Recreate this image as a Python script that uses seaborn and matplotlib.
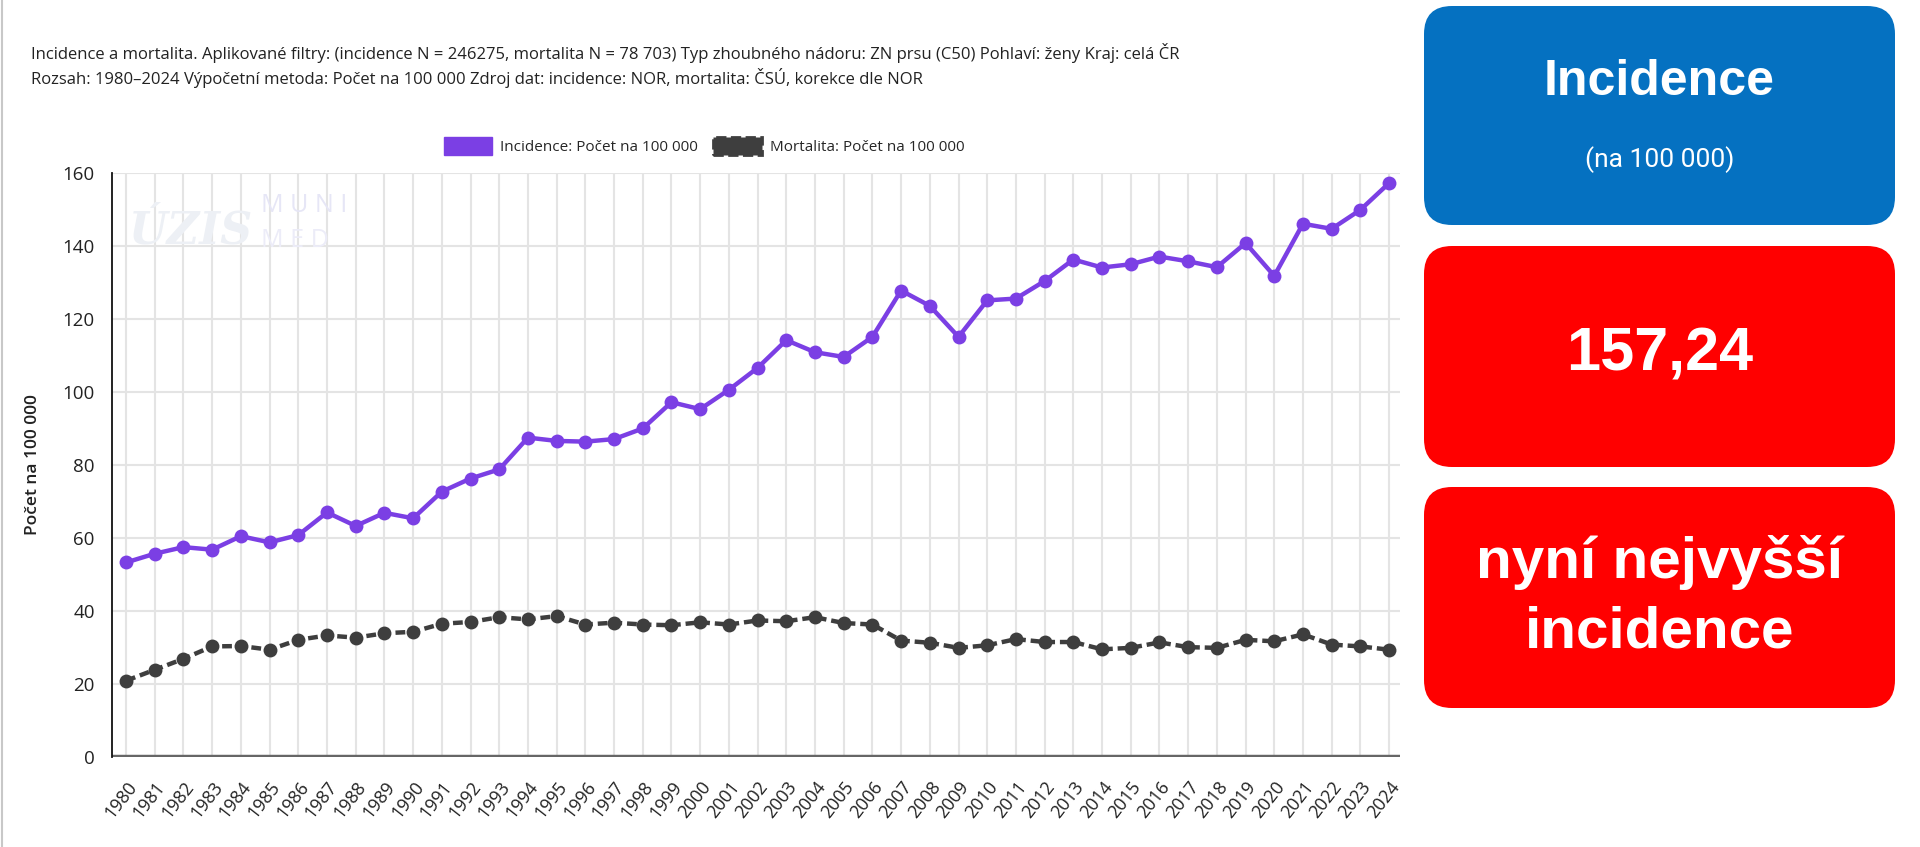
import numpy as np
import pandas as pd
import seaborn as sns
import matplotlib.pyplot as plt
from matplotlib.patches import FancyBboxPatch, Patch

# data
roky = list(range(1980, 2025))
incidence = [53.3, 55.7, 57.5, 56.8, 60.5, 58.8, 60.8, 67.0, 63.3, 66.9,
             65.4, 72.7, 76.3, 78.8, 87.5, 86.6, 86.4, 87.1, 90.0, 97.2,
             95.3, 100.6, 106.6, 114.2, 110.9, 109.6, 115.1, 127.8, 123.6, 115.1,
             125.1, 125.6, 130.4, 136.3, 134.1, 135.0, 137.1, 135.8, 134.2, 140.8,
             131.8, 146.1, 144.7, 149.9, 157.24]
mortalita = [20.9, 23.9, 26.9, 30.3, 30.4, 29.4, 32.1, 33.3, 32.7, 33.9,
             34.3, 36.5, 37.0, 38.3, 37.7, 38.6, 36.3, 36.8, 36.3, 36.1,
             36.9, 36.3, 37.4, 37.2, 38.3, 36.7, 36.3, 31.9, 31.3, 29.9,
             30.6, 32.3, 31.5, 31.5, 29.5, 29.9, 31.4, 30.1, 29.9, 32.1,
             31.7, 33.6, 30.8, 30.3, 29.4]
y_ticks = [0, 20, 40, 60, 80, 100, 120, 140, 160]

nadpis1 = ("Incidence a mortalita. Aplikované filtry: (incidence N = 246275, mortalita N = 78 703) "
           "Typ zhoubného nádoru: ZN prsu (C50) Pohlaví: ženy Kraj: celá ČR")
nadpis2 = ("Rozsah: 1980–2024 Výpočetní metoda: Počet na 100 000 Zdroj dat: incidence: NOR, "
           "mortalita: ČSÚ, korekce dle NOR")
leg_inc = "Incidence: Počet na 100 000"
leg_mor = "Mortalita: Počet na 100 000"
box_texts = ["Incidence", "(na 100 000)", "157,24", "nyní nejvyšší\nincidence"]

PURPLE = "#7B3FE4"
DARK = "#3E3E3E"
GRID = "#e4e4e4"

df = pd.DataFrame({
    "rok": roky * 2,
    "hodnota": incidence + mortalita,
    "rada": ["Incidence"] * len(roky) + ["Mortalita"] * len(roky),
})

sns.set_style("white")
plt.rcParams["font.family"] = ["Open Sans", "DejaVu Sans"]

W, H = 1920, 847
fig = plt.figure(figsize=(W / 100, H / 100), dpi=100)

ax = fig.add_axes([112 / W, 1 - 757 / H, (1400 - 112) / W, (757 - 173) / H])
ax.set_axisbelow(True)
sns.lineplot(data=df, x="rok", y="hodnota", hue="rada", style="rada",
             palette={"Incidence": PURPLE, "Mortalita": DARK},
             markers={"Incidence": "o", "Mortalita": "o"},
             dashes={"Incidence": "", "Mortalita": (2.2, 1.1)},
             lw=3.2, markersize=10, markeredgewidth=0, legend=False, ax=ax,
             zorder=3, clip_on=False)

ax.set_xlim(1979.51, 2024.38)
ax.set_ylim(0, 160)
ax.set_xticks(roky)
ax.set_xticklabels([str(r) for r in roky], rotation=52, ha="right",
                   rotation_mode="anchor", fontsize=13, color="#222")
ax.set_yticks(y_ticks)
ax.set_yticklabels([str(v) for v in y_ticks], fontsize=13.5, color="#222")
ax.grid(True, color=GRID, lw=1.5)
ax.tick_params(axis="y", length=9, width=1.5, color=GRID, pad=3.5)
ax.tick_params(axis="x", length=9, width=1.5, color=GRID, pad=6)
for s in ["top", "right", "bottom"]:
    ax.spines[s].set_visible(False)
ax.spines["left"].set_color("#111")
ax.spines["left"].set_linewidth(1.3)
ax.axhline(0, color="#666666", lw=3.2, zorder=2)
ax.set_xlabel("")
ax.set_ylabel("")

# faint watermarks
ax.text(0.013, 0.90, "ÚZIS", transform=ax.transAxes, fontsize=32, fontweight="bold",
        fontstyle="italic", family="DejaVu Serif", color="#edf0f5", va="center",
        ha="left", zorder=1)
ax.text(0.116, 0.945, "M U N I", transform=ax.transAxes, fontsize=18, color="#e6e6f6",
        va="center", ha="left", zorder=1)
ax.text(0.116, 0.885, "M E D", transform=ax.transAxes, fontsize=18, color="#ececf8",
        va="center", ha="left", zorder=1)

fig.text(31 / W, 1 - 53 / H, nadpis1, fontsize=12, color="#222", va="center")
fig.text(31 / W, 1 - 78 / H, nadpis2, fontsize=12, color="#222", va="center")
fig.text(33 / W, 1 - 465 / H, "Počet na 100 000", rotation=90, fontsize=12.5,
         fontweight="semibold", color="#222", va="center", ha="center")

handles = [Patch(facecolor=PURPLE, edgecolor=PURPLE),
           Patch(facecolor=DARK, edgecolor=DARK, linestyle="--", linewidth=2)]
fig.legend(handles, [leg_inc, leg_mor], loc="center", bbox_to_anchor=(704 / W, 1 - 146 / H),
           ncol=2, frameon=False, fontsize=11, handlelength=3.2, handleheight=1.5,
           columnspacing=1.0, handletextpad=0.5)

# overlay in pixel coordinates for border and info boxes
ov = fig.add_axes([0, 0, 1, 1], zorder=-1)
ov.set_xlim(0, W)
ov.set_ylim(H, 0)
ov.axis("off")
ov.plot([2, 2], [0, H], color="#c8c8c8", lw=1.5)

ov2 = fig.add_axes([0, 0, 1, 1], zorder=5)
ov2.set_xlim(0, W)
ov2.set_ylim(H, 0)
ov2.axis("off")
boxes = [(6, 225, "#0571C1"), (246, 467, "#FF0000"), (487, 708, "#FF0000")]
for top, bot, col in boxes:
    ov2.add_patch(FancyBboxPatch((1424 + 28, top + 28), 1895 - 1424 - 56, bot - top - 56,
                                 boxstyle="round,pad=28", fc=col, ec="none"))
cx = (1424 + 1895) / 2
bold = dict(family=["Liberation Sans", "DejaVu Sans"], fontweight="bold", color="white",
            ha="center", va="center")
ov2.text(cx, 82, box_texts[0], fontsize=36, **bold)
ov2.text(cx, 160, box_texts[1], fontsize=19, family=["Roboto", "DejaVu Sans"],
         color="white", ha="center", va="center")
ov2.text(cx, 355, box_texts[2], fontsize=44, **bold)
ov2.text(cx, 597, box_texts[3], fontsize=42, linespacing=1.38, **bold)

fig.savefig("out.png", dpi=100)
